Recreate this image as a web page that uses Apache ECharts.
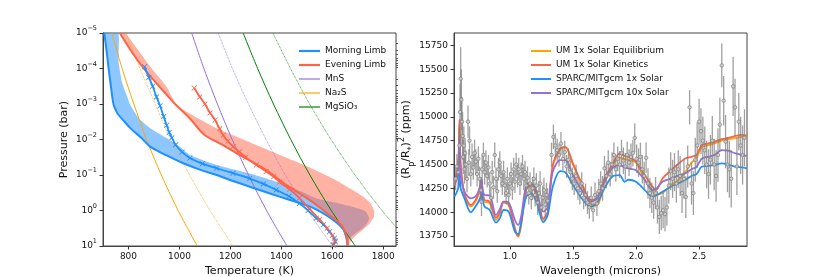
<!DOCTYPE html>
<html><head><meta charset="utf-8">
<script src="https://cdn.jsdelivr.net/npm/echarts@6/dist/echarts.min.js"></script>
<style>html,body{margin:0;padding:0;background:#fff}#c{width:830px;height:277px}</style>
</head><body><div id="c"></div>
<script>
// ---------- LEFT PANEL DATA: [Temperature K, log10 Pressure(bar)] ----------
var na2sSolid  = [[735,-5],[775,-4],[821,-3],[871,-2],[929,-1],[995,0],[1070,1]];
var na2sDotted = [[790,-5],[845,-4],[905,-3],[965,-2],[1040,-1],[1120,0],[1211,1]];
var mnsSolid   = [[1048,-5],[1096,-4],[1149,-3],[1207,-2],[1271,-1],[1342,0],[1422,1]];
var mnsDotted  = [[1152,-5],[1208,-4],[1271,-3],[1340,-2],[1416,-1],[1503,0],[1600,1]];
var mgSolid    = [[1250,-5],[1307,-4],[1369,-3],[1437,-2],[1512,-1],[1596,0],[1690,1]];
var mgDotted   = [[1367,-5],[1436,-4],[1511,-3],[1595,-2],[1689,-1],[1795,0],[1915,1]];

var morningEdgeA = [[705,-5],[714,-4.5],[722,-4],[731,-3.5],[741,-3],[752,-2.8],[761,-2.69],[785,-2.5],[807,-2.32],[850,-2.05],[885,-1.8],[950,-1.55],[1015,-1.33],[1080,-1.15],[1146,-1.0],[1210,-0.83],[1276,-0.67],[1335,-0.53],[1393,-0.39],[1450,-0.26],[1498,-0.15],[1540,-0.02],[1576,0.13],[1605,0.27],[1628,0.41],[1645,0.55],[1652,0.69],[1658,0.85],[1660,1]];
var morningEdgeB = [[760,-5],[761,-4.2],[774,-3.63],[790,-3.3],[807,-2.97],[840,-2.6],[885,-2.32],[950,-2.04],[1000,-1.8],[1041,-1.56],[1090,-1.42],[1146,-1.28],[1210,-1.16],[1276,-1.04],[1350,-0.88],[1419,-0.72],[1480,-0.53],[1537,-0.34],[1600,-0.24],[1654,-0.15],[1700,-0.06],[1732,0.035],[1745,0.22],[1735,0.38],[1719,0.5],[1690,0.65],[1667,0.8],[1660,1]];
var eveningEdgeA = [[766,-5],[810,-4.5],[860,-4],[920,-3.5],[983,-3],[1040,-2.6],[1100,-2.12],[1170,-1.85],[1237,-1.56],[1290,-1.35],[1341,-1.14],[1380,-0.93],[1419,-0.72],[1460,-0.53],[1500,-0.35],[1545,-0.12],[1589,0.13],[1620,0.3],[1640,0.45],[1654,0.69],[1660,1]];
var eveningEdgeB = [[787,-5],[840,-4.5],[891,-4],[950,-3.48],[989,-2.97],[1060,-2.65],[1150,-2.3],[1250,-2.0],[1350,-1.7],[1450,-1.4],[1530,-1.15],[1602,-0.9],[1670,-0.62],[1719,-0.4],[1750,-0.2],[1765,0.02],[1762,0.2],[1745,0.38],[1719,0.55],[1690,0.72],[1670,0.88],[1667,1]];
var morningProfile = [[863,-4.05],[880,-3.75],[895,-3.5],[910,-3.2],[924,-2.95],[938,-2.65],[950,-2.4],[960,-2.2],[970,-2.05],[985,-1.85],[1010,-1.65],[1041,-1.48],[1090,-1.32],[1146,-1.19],[1210,-1.05],[1276,-0.9],[1330,-0.75],[1380,-0.58],[1430,-0.4],[1471,-0.2],[1505,0.0],[1537,0.22],[1565,0.4],[1589,0.6],[1608,0.78],[1612,0.88],[1603,0.97]];
var eveningProfile = [[1058,-3.45],[1080,-3.2],[1100,-3.0],[1120,-2.75],[1140,-2.55],[1158,-2.3],[1172,-2.12],[1190,-1.95],[1211,-1.8],[1235,-1.65],[1260,-1.5],[1302,-1.28],[1341,-1.1],[1370,-0.95],[1393,-0.8],[1432,-0.6],[1471,-0.35],[1510,-0.05],[1550,0.25],[1580,0.5],[1600,0.7],[1610,0.85],[1605,0.97]];

var tempTicks = [800,1000,1200,1400,1600,1800];
var presTicks = [1e-5,1e-4,1e-3,1e-2,1e-1,1,10];
var presMinor = [2e-5,3e-5,4e-5,5e-5,6e-5,7e-5,8e-5,9e-5,2e-4,3e-4,4e-4,5e-4,6e-4,7e-4,8e-4,9e-4,2e-3,3e-3,4e-3,5e-3,6e-3,7e-3,8e-3,9e-3,0.02,0.03,0.04,0.05,0.06,0.07,0.08,0.09,0.2,0.3,0.4,0.5,0.6,0.7,0.8,0.9,2,3,4,5,6,7,8,9];

// ---------- RIGHT PANEL DATA ----------
var wave = [0.56,0.59,0.60,0.61,0.64,0.69,0.735,0.765,0.775,0.785,0.80,0.84,0.89,0.92,0.95,0.99,1.04,1.066,1.09,1.13,1.17,1.21,1.265,1.30,1.34,1.40,1.44,1.50,1.57,1.64,1.69,1.75,1.81,1.87,1.91,1.94,2.00,2.07,2.13,2.16,2.21,2.28,2.33,2.39,2.44,2.48,2.52,2.57,2.62,2.68,2.73,2.79,2.84,2.88];
var umEquilibrium = [14280,14480,14900,14480,14180,14060,14130,14240,14320,14190,14110,14095,13920,13985,14100,14075,13815,13740,13870,14240,14275,14170,13920,13995,14480,14660,14680,14500,14290,14090,14075,14300,14480,14570,14560,14546,14520,14340,14220,14185,14200,14290,14330,14420,14520,14570,14680,14700,14721,14750,14765,14780,14790,14780];
var umKinetics = [14300,14500,14970,14500,14197,14075,14145,14250,14330,14200,14128,14110,13943,14000,14110,14090,13831,13750,13880,14250,14285,14180,13935,14005,14494,14668,14686,14511,14302,14128,14140,14354,14494,14616,14590,14581,14529,14389,14267,14232,14354,14442,14500,14564,14581,14600,14703,14720,14738,14766,14780,14800,14810,14800];
var sparc1x = [14160,14250,14420,14250,14145,13998,14075,14150,14232,14130,14058,14023,13890,13936,14023,14005,13796,13768,13900,14162,14197,14110,13894,13970,14267,14431,14417,14285,14145,14058,14093,14250,14372,14389,14319,14340,14320,14232,14162,14175,14215,14270,14300,14337,14380,14400,14476,14485,14494,14511,14500,14476,14470,14459];
var sparc10x = [14285,14400,14800,14400,14215,14145,14175,14280,14354,14230,14180,14175,13970,14030,14110,14100,13918,13866,13960,14285,14302,14220,14005,14050,14424,14546,14546,14389,14232,14110,14150,14319,14459,14494,14470,14459,14440,14337,14232,14245,14319,14354,14380,14407,14450,14476,14560,14581,14598,14651,14645,14616,14600,14590];

var obsWave = [0.57,0.58,0.59,0.60,0.605,0.61,0.615,0.62,0.625,0.63,0.635,0.64,0.645,0.65,0.66,0.668,0.675,0.68,0.69,0.70,0.71,0.72,0.73,0.74,0.75,0.76,0.77,0.775,0.78,0.79,0.80,0.81,0.82,0.83,0.84,0.85,0.86,0.87,0.88,0.89,0.90,0.91,0.92,0.93,0.94,0.95,0.96,0.97,0.98,0.99,1.00,1.01,1.02,1.03,1.04,1.05,1.06,1.07,1.08,1.09,1.10,1.11,1.12,1.13,1.14,1.15,1.16,1.17,1.18,1.19,1.20,1.21,1.22,1.23,1.24,1.25,1.26,1.27,1.28,1.29,1.30,
 1.33,1.345,1.36,1.375,1.39,1.405,1.42,1.435,1.45,1.465,1.48,1.495,1.51,1.525,1.54,1.555,1.57,1.585,1.60,1.615,1.63,1.645,1.66,1.675,1.69,1.705,1.72,1.735,1.75,1.765,1.78,1.795,1.81,1.825,1.84,1.855,1.87,1.885,1.90,1.915,1.93,1.945,1.96,1.975,1.99,2.005,2.02,2.035,2.05,2.065,2.08,2.095,2.11,2.125,2.14,2.155,2.17,2.185,2.20,2.215,2.23,2.245,2.26,2.275,2.29,2.305,2.32,2.335,2.35,2.365,2.38,2.395,2.41,2.425,2.44,2.455,2.47,2.485,2.50,2.515,2.53,2.545,2.56,2.575,2.59,2.605,2.62,2.635,2.65,2.665,2.68,2.695,2.71,2.725,2.74,2.755,2.77,2.785,2.80,2.815,2.83,2.845,2.86];
var obsDepth = [14350,14480,14420,14700,15050,15400,15180,14950,14800,14580,14700,14450,14620,14500,14350,14950,14520,14750,14400,14580,14470,14620,14530,14400,14560,14350,14230,14110,14450,14600,14420,14520,14380,14470,14300,14150,14420,14260,14600,14350,14220,14450,14520,14380,14300,14420,14280,14200,14350,14180,14300,14400,14250,14450,14320,14500,14380,14450,14300,14400,14480,14350,14420,14280,14360,14200,14300,14150,14250,14350,14180,14280,14100,14200,14300,14050,14150,14230,14080,14180,14120,
 14600,14790,14700,14650,14600,14720,14560,14630,14480,14550,14420,14350,14300,14380,14250,14200,14300,14150,14180,14100,14050,14150,14020,14180,14090,14220,14300,14250,14460,14380,14520,14400,14500,14600,14450,14560,14500,14620,14540,14480,14600,14520,14580,14620,14780,14560,14520,14580,14450,14380,14570,14300,14200,14150,14100,14200,14050,13950,13990,14020,13980,14050,14280,14430,14350,14420,14300,14450,14380,14200,14350,14160,14480,15100,14300,14200,14550,14700,14950,14850,14750,14650,14500,14400,14550,14750,14500,14380,14600,14920,15540,15170,14740,14500,14450,14350,15320,15100,14480,14950,14700,14600,14780];
var obsErr = [120,130,140,200,300,330,320,260,250,180,200,150,160,150,140,170,140,150,130,140,130,140,130,130,130,130,140,150,140,130,130,130,120,130,120,120,120,120,130,120,120,120,120,120,120,120,120,120,120,120,120,120,120,120,120,120,120,120,120,120,120,120,120,120,120,120,120,120,120,120,120,130,130,130,130,130,130,130,130,130,130,
 130,130,130,120,120,120,120,120,120,120,120,120,120,120,120,120,120,120,120,120,120,120,120,130,130,130,130,130,130,130,130,130,130,130,130,130,140,140,140,140,140,140,140,140,150,150,150,150,150,150,160,160,160,160,170,170,170,180,180,190,180,190,190,200,200,200,200,200,210,210,210,220,220,180,220,230,230,240,240,240,250,250,250,260,260,260,270,270,280,280,230,260,280,290,300,300,310,300,300,300,300,310,300];

var waveTicks = [1.0,1.5,2.0,2.5];
var depthTicks = [13750,14000,14250,14500,14750,15000,15250,15500,15750];

// ---------- build ----------
function toP(arr){ return arr.map(function(p){ return [p[0], Math.pow(10, p[1])]; }); }
var FONT = 'DejaVu Sans';
var BLUE = '#1E90FF', RED = '#FF6347', ORANGE = '#FFA500', PURPLE = '#9370DB', GREEN = '#008000';
var XMARK = 'path://M0,1L1,0L5,4L9,0L10,1L6,5L10,9L9,10L5,6L1,10L0,9L4,5Z';

function band(edgeA, edgeB, color, z){
  return {type:'custom', xAxisIndex:0, yAxisIndex:0, z:z, silent:true, clip:true,
    data:[[1000,0.01]],
    renderItem:function(params, api){
      var pts = [];
      edgeA.forEach(function(p){ pts.push(api.coord([p[0], Math.pow(10,p[1])])); });
      for (var i = edgeB.length-1; i >= 0; i--) { pts.push(api.coord([edgeB[i][0], Math.pow(10,edgeB[i][1])])); }
      return {type:'polygon', shape:{points:pts, smooth:0.15}, style:{fill:color, stroke:null}};
    }};
}
function lineL(name, data, color, width, type, z){
  return {type:'line', name:name, xAxisIndex:0, yAxisIndex:0, data:toP(data), showSymbol:false, symbol:'none',
    smooth:0.3, lineStyle:{color:color, width:width, type:type||'solid'}, itemStyle:{color:color}, z:z||3, silent:true, clip:true};
}
function markerL(data, color){
  return {type:'line', xAxisIndex:0, yAxisIndex:0, data:toP(data), symbol:XMARK, symbolSize:5.5, showSymbol:true,
    smooth:0.2, lineStyle:{color:color, width:1.8}, itemStyle:{color:color}, z:6, silent:true};
}
function lineR(name, vals, color){
  return {type:'line', name:name, xAxisIndex:1, yAxisIndex:2, data:wave.map(function(w,i){return [w, vals[i]];}),
    showSymbol:false, symbol:'none', smooth:0.3, lineStyle:{color:color, width:1.8}, itemStyle:{color:color}, z:3, silent:true};
}
var obs = obsWave.map(function(w,i){ return [w, obsDepth[i], obsErr[i]]; });

function expLabel(v){
  var e = Math.round(Math.log10(v));
  return '{b|10}{s|' + (e < 0 ? '\u2212' + (-e) : e) + '}';
}
function plain(v){ return String(v); }

var tickStyle = {lineStyle:{color:'#333', width:1}, length:3.5};
var option = {
  animation:false,
  textStyle:{fontFamily:FONT},
  grid:[
    {left:103, top:33, width:293, height:213, show:true, borderColor:'#444', borderWidth:1, backgroundColor:'#fff', containLabel:false, outerBoundsMode:'none'},
    {left:454, top:33, width:293, height:213, show:true, borderColor:'#444', borderWidth:1, backgroundColor:'#fff', containLabel:false, outerBoundsMode:'none'}
  ],
  legend:[
    {orient:'vertical', left:294, top:40, itemWidth:21, itemHeight:2.2, itemGap:2, icon:'rect', selectedMode:false,
     textStyle:{fontSize:9, color:'#111', lineHeight:12, fontFamily:FONT}, data:['Morning Limb','Evening Limb']},
    {orient:'vertical', left:294, top:68, itemWidth:21, itemHeight:1.2, itemGap:2, icon:'rect', selectedMode:false,
     textStyle:{fontSize:9, color:'#111', lineHeight:12, fontFamily:FONT}, data:['MnS','Na\u2082S','MgSiO\u2083']},
    {orient:'vertical', left:526, top:40, itemWidth:20, itemHeight:2, itemGap:2, icon:'rect', selectedMode:false,
     textStyle:{fontSize:9, color:'#111', lineHeight:12, fontFamily:FONT},
     data:['UM 1x Solar Equilibrium','UM 1x Solar Kinetics','SPARC/MITgcm 1x Solar','SPARC/MITgcm 10x Solar']}
  ],
  xAxis:[
    {gridIndex:0, type:'value', min:700, max:1850, splitLine:{show:false},
     axisLine:{show:true, lineStyle:{color:'#444'}}, axisTick:Object.assign({customValues:tempTicks}, tickStyle),
     axisLabel:{customValues:tempTicks, fontSize:9, color:'#111', margin:6, formatter:plain},
     name:'Temperature (K)', nameLocation:'middle', nameGap:18, nameTextStyle:{fontSize:11, color:'#111'}},
    {gridIndex:1, type:'value', min:0.557, max:2.88, splitLine:{show:false},
     axisLine:{show:true, lineStyle:{color:'#444'}}, axisTick:Object.assign({customValues:waveTicks}, tickStyle),
     axisLabel:{customValues:waveTicks, fontSize:9, color:'#111', margin:6, formatter:function(v){return v.toFixed(1);}},
     name:'Wavelength (microns)', nameLocation:'middle', nameGap:18, nameTextStyle:{fontSize:11, color:'#111'}}
  ],
  yAxis:[
    {gridIndex:0, type:'log', logBase:10, min:1e-5, max:10, inverse:true, splitLine:{show:false},
     axisLine:{show:true, lineStyle:{color:'#444'}}, axisTick:Object.assign({customValues:presTicks}, tickStyle),
     axisLabel:{customValues:presTicks, formatter:expLabel, color:'#111', margin:6,
       rich:{b:{fontSize:9, color:'#111', lineHeight:16, fontFamily:FONT}, s:{fontSize:6.5, color:'#111', lineHeight:9, verticalAlign:'top', fontFamily:FONT}}},
     name:'Pressure (bar)', nameLocation:'middle', nameGap:33, nameTextStyle:{fontSize:11, color:'#111'}},
    {gridIndex:0, type:'log', logBase:10, min:1e-5, max:10, inverse:true, splitLine:{show:false},
     axisLine:{show:false}, axisLabel:{show:false},
     axisTick:{customValues:presMinor, length:2, lineStyle:{color:'#333', width:0.8}}},
    {gridIndex:1, type:'value', min:13645, max:15880, splitLine:{show:false},
     axisLine:{show:true, lineStyle:{color:'#444'}}, axisTick:Object.assign({customValues:depthTicks}, tickStyle),
     axisLabel:{customValues:depthTicks, fontSize:9, color:'#111', margin:6, formatter:plain},
     name:'{n|(R}{sub|p}{n|/R}{sub|*}{n|)}{sup|2}{n| (ppm)}', nameLocation:'middle', nameGap:26,
     nameTextStyle:{fontSize:11, color:'#111', rich:{
       n:{fontSize:11, color:'#111', lineHeight:18, fontFamily:FONT},
       sub:{fontSize:8, color:'#111', lineHeight:9, verticalAlign:'bottom', fontFamily:FONT},
       sup:{fontSize:8, color:'#111', lineHeight:9, verticalAlign:'top', fontFamily:FONT}}}}
  ],
  series:[
    band(morningEdgeA, morningEdgeB, 'rgba(30,144,255,0.5)', 1),
    band(eveningEdgeA, eveningEdgeB, 'rgba(255,99,71,0.5)', 2),
    lineL('Na\u2082S', na2sSolid, ORANGE, 1, 'solid'),
    lineL('', na2sDotted, ORANGE, 0.8, 'dotted'),
    lineL('MnS', mnsSolid, PURPLE, 1, 'solid'),
    lineL('', mnsDotted, PURPLE, 0.8, 'dotted'),
    lineL('MgSiO\u2083', mgSolid, GREEN, 1, 'solid'),
    lineL('', mgDotted, GREEN, 0.8, 'dotted'),
    lineL('Morning Limb', morningEdgeA, BLUE, 2, 'solid', 4),
    lineL('Evening Limb', eveningEdgeA, RED, 2, 'solid', 4),
    markerL(morningProfile, BLUE),
    markerL(eveningProfile, RED),
    lineR('UM 1x Solar Equilibrium', umEquilibrium, ORANGE),
    lineR('UM 1x Solar Kinetics', umKinetics, RED),
    lineR('SPARC/MITgcm 1x Solar', sparc1x, BLUE),
    lineR('SPARC/MITgcm 10x Solar', sparc10x, PURPLE),
    {type:'custom', xAxisIndex:1, yAxisIndex:2, data:obs, z:5, silent:true, encode:{x:0, y:1},
     renderItem:function(params, api){
       var x = api.value(0), y = api.value(1), e = api.value(2);
       var a = api.coord([x, y - e]), b = api.coord([x, y + e]);
       return {type:'line', shape:{x1:a[0], y1:a[1], x2:b[0], y2:b[1]}, style:{stroke:'rgba(128,128,128,0.75)', lineWidth:1.3}};
     }},
    {type:'scatter', xAxisIndex:1, yAxisIndex:2, data:obs.map(function(o){return [o[0], o[1]];}), symbol:'circle', symbolSize:3.5,
     itemStyle:{color:'#d0d0d0', borderColor:'#808080', borderWidth:0.9}, z:6, silent:true}
  ]
};
echarts.init(document.getElementById('c'), null, {renderer:'canvas'}).setOption(option);
</script></body></html>
